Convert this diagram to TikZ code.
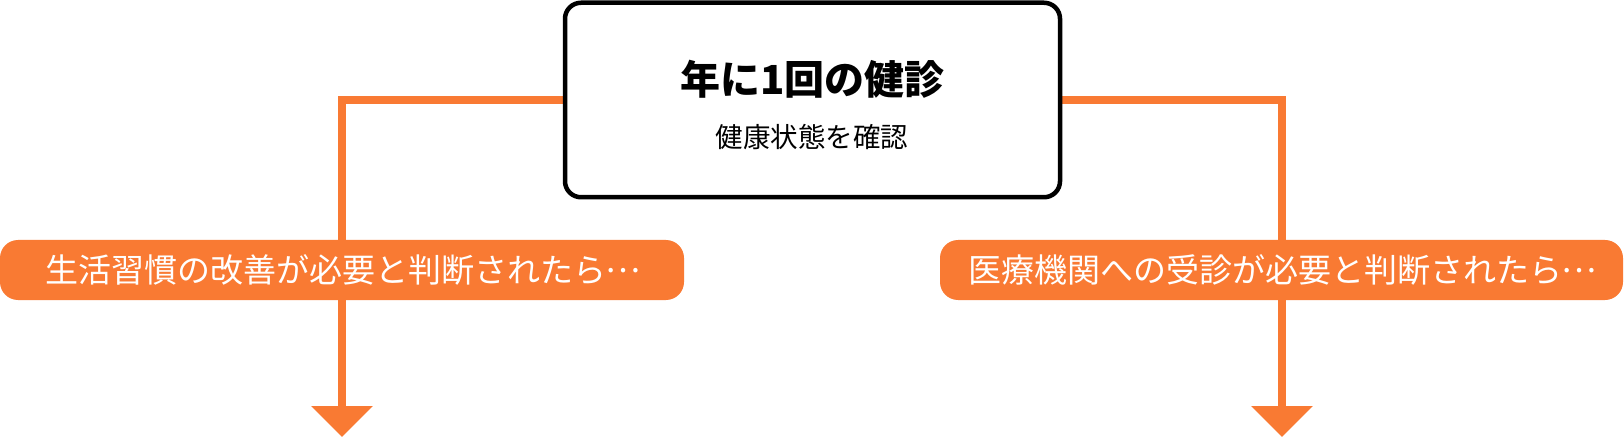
\documentclass[tikz,border=0pt]{standalone}
\usepackage{fontspec}
\usepackage{tikz}
\usetikzlibrary{arrows.meta,backgrounds}
\setmainfont{Noto Sans CJK JP}
\newcommand{\dotsjp}{\makebox[1em]{\raisebox{0.3em}{…}}}
\definecolor{flow}{HTML}{F97A33}

\tikzset{
  checkbox/.style={draw=black,line width=4.5pt,rounded corners=16pt,fill=white,
    minimum width=495pt,minimum height=194.5pt,inner sep=0pt},
  title/.style={font=\bfseries\fontsize{40}{44}\selectfont,text height=33pt,text depth=3pt,inner sep=0pt},
  subtitle/.style={font=\fontsize{27.5}{30}\selectfont,text height=23pt,text depth=2pt,inner sep=0pt},
  pill/.style={fill=flow,rounded corners=18pt,minimum height=60pt,inner sep=0pt,text=white,
    font=\fontsize{33}{36}\selectfont,text height=27.4pt,text depth=2.3pt},
  flowline/.style={draw=flow,line width=7.5pt,-{Triangle[width=60pt,length=31pt]}}
}

\begin{document}
\begin{tikzpicture}[x=1pt,y=-1pt]
\useasboundingbox (0,0) rectangle (1624,438);

\node[checkbox] (check) at (812.5,100) {};
\node[title] (yearly) at (812.5,79.5) {年に1回の健診};
\node[subtitle] (state) at (812,137.5) {健康状態を確認};

\coordinate (L) at (342,437);
\coordinate (R) at (1282,437);

\begin{scope}[on background layer]
\draw[flowline] (check.west) -| (L);
\draw[flowline] (check.east) -| (R);
\end{scope}

\node[pill,minimum width=684pt] (life) at (342,270) {生活習慣の改善が必要と判断されたら\dotsjp};
\node[pill,minimum width=683pt] (clinic) at (1281.5,270) {医療機関への受診が必要と判断されたら\dotsjp};
\end{tikzpicture}
\end{document}
